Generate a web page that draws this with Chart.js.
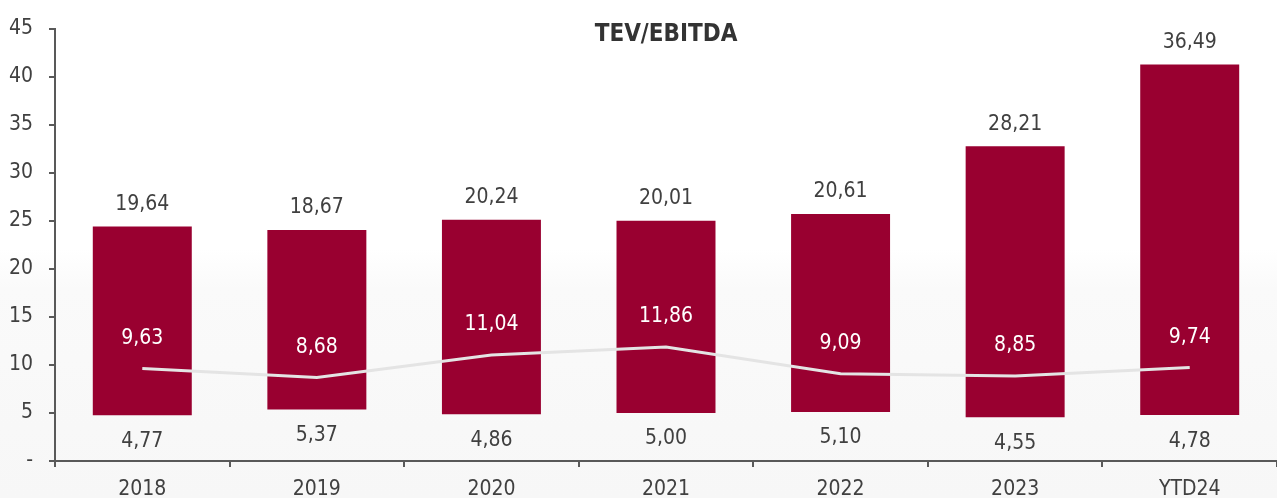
<!DOCTYPE html>
<html>
<head>
<meta charset="utf-8">
<script src="https://cdn.jsdelivr.net/npm/chart.js@4"></script>
<style>
  html, body { margin: 0; padding: 0; }
  body {
    width: 1277px; height: 498px;
    background: linear-gradient(to bottom, #ffffff 0%, #ffffff 50%, #fafafa 58%, #f7f7f7 100%);
  }
  #wrap { width: 1277px; height: 498px; position: relative; }
</style>
</head>
<body>
<div id="wrap"><canvas id="myChart"></canvas></div>
<script>
// categorias y valores
var years = ["2018", "2019", "2020", "2021", "2022", "2023", "YTD24"];
var minimos = [4.77, 5.37, 4.86, 5.00, 5.10, 4.55, 4.78];
var rangos = [19.64, 18.67, 20.24, 20.01, 20.61, 28.21, 36.49];
var medianas = [9.63, 8.68, 11.04, 11.86, 9.09, 8.85, 9.74];
var yTicks = [0, 5, 10, 15, 20, 25, 30, 35, 40, 45];

var fuente = "'DejaVu Sans Condensed', 'DejaVu Sans', sans-serif";
var gris = "#404040";

function fmt(v){
  return v.toFixed(2).replace(".", ",");
}

// etiquetas de valores y titulo dibujados a mano
var etiquetas = {
  id: "etiquetas",
  afterDatasetsDraw: function(chart){
    var ctx = chart.ctx;
    var base = chart.getDatasetMeta(0);
    var barras = chart.getDatasetMeta(1);
    var linea = chart.getDatasetMeta(2);
    ctx.save();
    ctx.font = "21px " + fuente;
    ctx.textAlign = "center";
    ctx.textBaseline = "middle";
    for (var i = 0; i < years.length; i++){
      var b = barras.data[i];
      ctx.fillStyle = gris;
      ctx.fillText(fmt(rangos[i]), b.x, b.y - 22);
      ctx.fillText(fmt(minimos[i]), b.x, base.data[i].y + 26);
      var p = linea.data[i];
      ctx.fillStyle = "#ffffff";
      ctx.fillText(fmt(medianas[i]), p.x, p.y - 30);
    }
    var area = chart.chartArea;
    ctx.font = "bold 24px " + fuente;
    ctx.fillStyle = "#333333";
    ctx.fillText("TEV/EBITDA", (area.left + area.right) / 2, 35);
    ctx.restore();
  }
};

var myChart = new Chart(document.getElementById("myChart"), {
  type: "bar",
  data: {
    labels: years,
    datasets: [
      {
        label: "Minimo",
        data: minimos,
        backgroundColor: "rgba(0,0,0,0)",
        stack: "s",
        order: 2
      },
      {
        label: "Rango",
        data: rangos,
        backgroundColor: "#990030",
        stack: "s",
        order: 2
      },
      {
        label: "Mediana",
        type: "line",
        data: medianas,
        borderColor: "#e4e4e4",
        borderWidth: 3,
        pointRadius: 0,
        tension: 0,
        order: 1
      }
    ]
  },
  options: {
    responsive: true,
    maintainAspectRatio: false,
    animation: false,
    layout: { padding: { top: 24, right: 0, left: 0, bottom: 0 } },
    datasets: { bar: { categoryPercentage: 1, barPercentage: 0.567 } },
    plugins: {
      legend: { display: false },
      tooltip: { enabled: false }
    },
    scales: {
      x: {
        stacked: true,
        grid: {
          offset: true,
          drawOnChartArea: false,
          tickLength: 6,
          color: "#595959",
          lineWidth: 2
        },
        border: { color: "#595959", width: 2 },
        ticks: { color: gris, font: { family: fuente, size: 21 }, padding: 10 },
        afterFit: function(scale){ scale.height = 37; }
      },
      y: {
        stacked: true,
        min: 0,
        max: 45,
        afterBuildTicks: function(scale){
          scale.ticks = yTicks.map(function(v){ return { value: v }; });
        },
        grid: {
          drawOnChartArea: false,
          tickLength: 6,
          color: "#595959",
          lineWidth: 2
        },
        border: { color: "#595959", width: 2 },
        ticks: {
          color: gris,
          font: { family: fuente, size: 21 },
          padding: 16,
          callback: function(v){ return v === 0 ? "-" : v; }
        },
        afterFit: function(scale){ scale.width = 55; }
      }
    }
  },
  plugins: [etiquetas]
});
</script>
</body>
</html>
